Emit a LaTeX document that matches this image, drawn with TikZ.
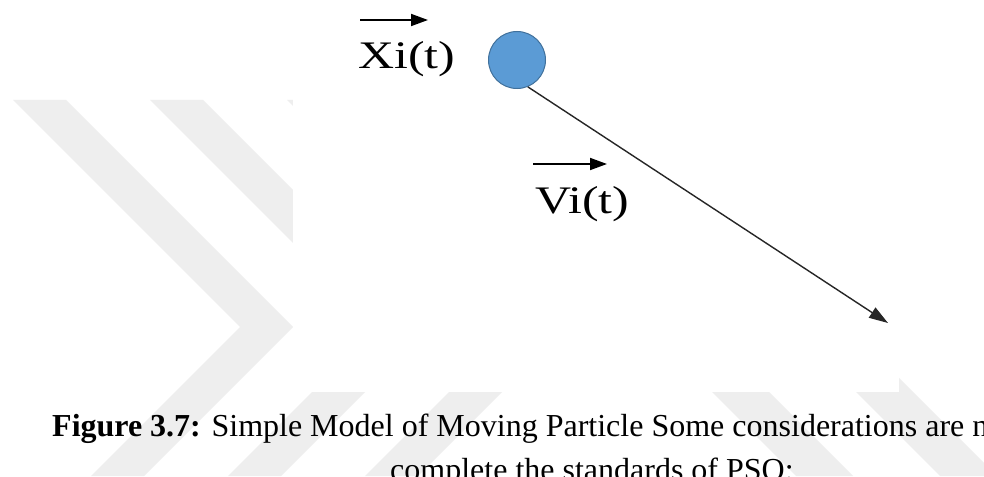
\documentclass[tikz,border=0pt]{standalone}
\usepackage{fontspec}
\setmainfont{Liberation Serif}
\usetikzlibrary{arrows.meta}
\definecolor{dotblue}{HTML}{5B9BD5}
\definecolor{dotedge}{HTML}{41719C}
\definecolor{wmgray}{HTML}{EEEEEE}
\newcommand{\widelbl}[1]{\scalebox{1.28}[1]{#1}}

\begin{document}
\begin{tikzpicture}[x=1pt, y=-1pt,
  lbl/.style={anchor=base west, inner sep=0pt, font=\fontsize{39}{39}\selectfont},
  capline/.style={anchor=base west, inner sep=0pt, font=\fontsize{32}{32}\selectfont},
  particle/.style={circle, draw=dotedge, line width=1pt, fill=dotblue,
                   minimum size=57pt, inner sep=0pt},
  vec/.style={-{Triangle[length=17pt, width=12pt]}, line width=1.8pt},
  mv/.style={-{Triangle[length=19pt, width=12pt]}, line width=1.4pt, black!85},
  wm/.style={fill=wmgray}]

\useasboundingbox (0,0) rectangle (984,476);
\clip (0,0) rectangle (984,476);
\fill[white] (0,0) rectangle (984,476);

% ---------------------------------------- watermark behind the figure ---
\foreach \dx in {0,137,274}
  \fill[wm] (13+\dx,100) -- (66+\dx,100) -- (293+\dx,327) -- (144+\dx,476)
            -- (91+\dx,476) -- (240+\dx,327) -- cycle;
\foreach \dx in {0,144}
  \fill[wm] (680+\dx,360) -- (737+\dx,360) -- (853+\dx,476)
            -- (796+\dx,476) -- cycle;

% the figure itself sits on a white patch
\fill[white] (293,0) rectangle (899,392);

\node[particle] (part) at (517,60) {};
\node[lbl] (xlab) at (358,69) {\widelbl{Xi(t)}};
\node[lbl] (vlab) at (535,213) {\widelbl{Vi(t)}};
\coordinate (xarr) at (360,20);
\coordinate (varr) at (533,164);
\coordinate (tip) at (888,323);

\draw[vec] (xarr) -- ++(68,0);
\draw[vec] (varr) -- ++(74,0);
\draw[mv] (part.-68) -- (tip);

% caption
\node[capline] (cap1) at (52,436)
      {\textbf{Figure 3.7:} Simple Model of Moving Particle Some considerations are n};
\node[capline] (cap2) at (390,480) {complete the standards of PSO;};

\end{tikzpicture}
\end{document}
